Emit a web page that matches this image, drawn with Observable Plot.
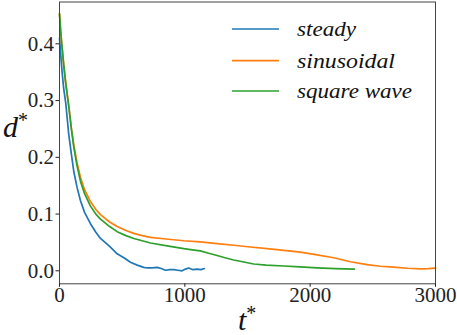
<!DOCTYPE html>
<html><head><meta charset="utf-8">
<script src="https://cdn.jsdelivr.net/npm/d3@7"></script>
<script src="https://cdn.jsdelivr.net/npm/@observablehq/plot@0.6"></script>
<style>body{margin:0;background:#fff}</style>
</head><body><div id="chart"></div>
<script>
const seriesNames = ["steady", "sinusoidal", "square wave"];
const seriesColors = ["#1f77b4", "#ff7f0e", "#2ca02c"];
const xTicks = [0, 1000, 2000, 3000];
const yTicks = [0.0, 0.1, 0.2, 0.3, 0.4];

const steadyT = [0, 10, 20, 34, 50, 74, 95, 114, 140, 167, 200, 247, 290, 327, 400, 460, 520, 566, 620, 672, 700, 740, 779, 812, 845, 880, 911, 945, 978, 1005, 1031, 1065, 1098, 1128, 1156];
const steadyD = [0.41, 0.38, 0.352, 0.32, 0.295, 0.24, 0.205, 0.175, 0.147, 0.124, 0.103, 0.083, 0.068, 0.057, 0.043, 0.030, 0.022, 0.015, 0.010, 0.006, 0.005, 0.005, 0.006, 0.004, 0.001, 0.002, 0.002, 0.001, 0.0, 0.003, 0.005, 0.002, 0.003, 0.002, 0.004];

const sinT = [0, 10, 20, 34, 50, 74, 95, 114, 140, 167, 200, 247, 290, 327, 400, 460, 530, 593, 660, 726, 850, 992, 1124, 1258, 1390, 1523, 1656, 1790, 1922, 2055, 2188, 2321, 2454, 2560, 2666, 2780, 2879, 2940, 3000];
const sinD = [0.453, 0.42, 0.395, 0.362, 0.33, 0.29, 0.25, 0.222, 0.19, 0.165, 0.143, 0.122, 0.108, 0.099, 0.086, 0.078, 0.071, 0.066, 0.062, 0.059, 0.056, 0.053, 0.051, 0.048, 0.045, 0.042, 0.039, 0.036, 0.033, 0.028, 0.023, 0.016, 0.011, 0.008, 0.0064, 0.0045, 0.0035, 0.0038, 0.0048];

const sqT = [0, 10, 20, 34, 50, 74, 95, 114, 140, 167, 200, 247, 290, 327, 400, 460, 530, 593, 660, 726, 859, 992, 1060, 1124, 1190, 1258, 1320, 1390, 1460, 1550, 1650, 1789, 1920, 2055, 2200, 2353];
const sqD = [0.453, 0.42, 0.395, 0.362, 0.33, 0.29, 0.25, 0.218, 0.185, 0.158, 0.136, 0.114, 0.100, 0.091, 0.078, 0.069, 0.062, 0.057, 0.053, 0.049, 0.044, 0.039, 0.037, 0.035, 0.031, 0.027, 0.023, 0.019, 0.016, 0.012, 0.010, 0.0085, 0.007, 0.0053, 0.004, 0.003];

const table = [];
[[steadyT, steadyD], [sinT, sinD], [sqT, sqD]].forEach(([ts, ds], i) => {
  ts.forEach((t, j) => table.push({series: seriesNames[i], t, d: ds[j]}));
});

const W = 457, H = 335;
const mL = 59, mR = 22, mT = 1.5, mB = 51.7;
const SERIF = "'Liberation Serif', 'Times New Roman', Tinos, 'DejaVu Serif', serif";

const plot = Plot.plot({
  width: W, height: H,
  marginLeft: mL, marginRight: mR, marginTop: mT, marginBottom: mB,
  style: {fontSize: "21px", color: "#222", background: "#fff"},
  x: {domain: [0, 3000]},
  y: {domain: [-0.0229, 0.4737]},
  color: {domain: seriesNames, range: seriesColors},
  marks: [
    Plot.line(table, {x: "t", y: "d", z: "series", stroke: "series", strokeWidth: 1.7}),
    Plot.frame({stroke: "#444", strokeWidth: 1}),
    Plot.axisX({ticks: xTicks, tickSize: 3.5, tickPadding: 0, tickFormat: d3.format("d"), label: null, fontSize: 21}),
    Plot.axisY({ticks: yTicks, tickSize: 3.5, tickPadding: 2, tickFormat: d3.format(".1f"), label: null, fontSize: 21})
  ]
});
document.getElementById("chart").appendChild(plot);

const svg = d3.select(plot);
// legend
const legY = [29, 60.7, 91];
const legW = [59, 98, 115];
seriesNames.forEach((name, i) => {
  svg.append("line").attr("x1", 232).attr("x2", 279).attr("y1", legY[i]).attr("y2", legY[i])
    .attr("stroke", seriesColors[i]).attr("stroke-width", 1.7);
  svg.append("text").attr("x", 297).attr("y", legY[i] + 7.3)
    .attr("text-anchor", "start")
    .style("font-style", "italic").style("font-size", "20px")
    .attr("textLength", legW[i]).attr("lengthAdjust", "spacingAndGlyphs")
    .attr("fill", "#111").text(name);
});
// axis labels
function starLabel(x, y, letter) {
  const t = svg.append("text").attr("x", x).attr("y", y).attr("text-anchor", "start")
    .style("font-style", "italic").style("font-size", "30px")
    .attr("fill", "#111");
  t.append("tspan").text(letter);
  t.append("tspan").style("font-size", "20px").style("font-style", "normal").attr("dy", -10).text("*");
}
starLabel(3, 137, "d");
starLabel(238, 330, "t");
svg.style("font-family", SERIF);
svg.selectAll("text, g").style("font-family", SERIF);
</script>
</body></html>
